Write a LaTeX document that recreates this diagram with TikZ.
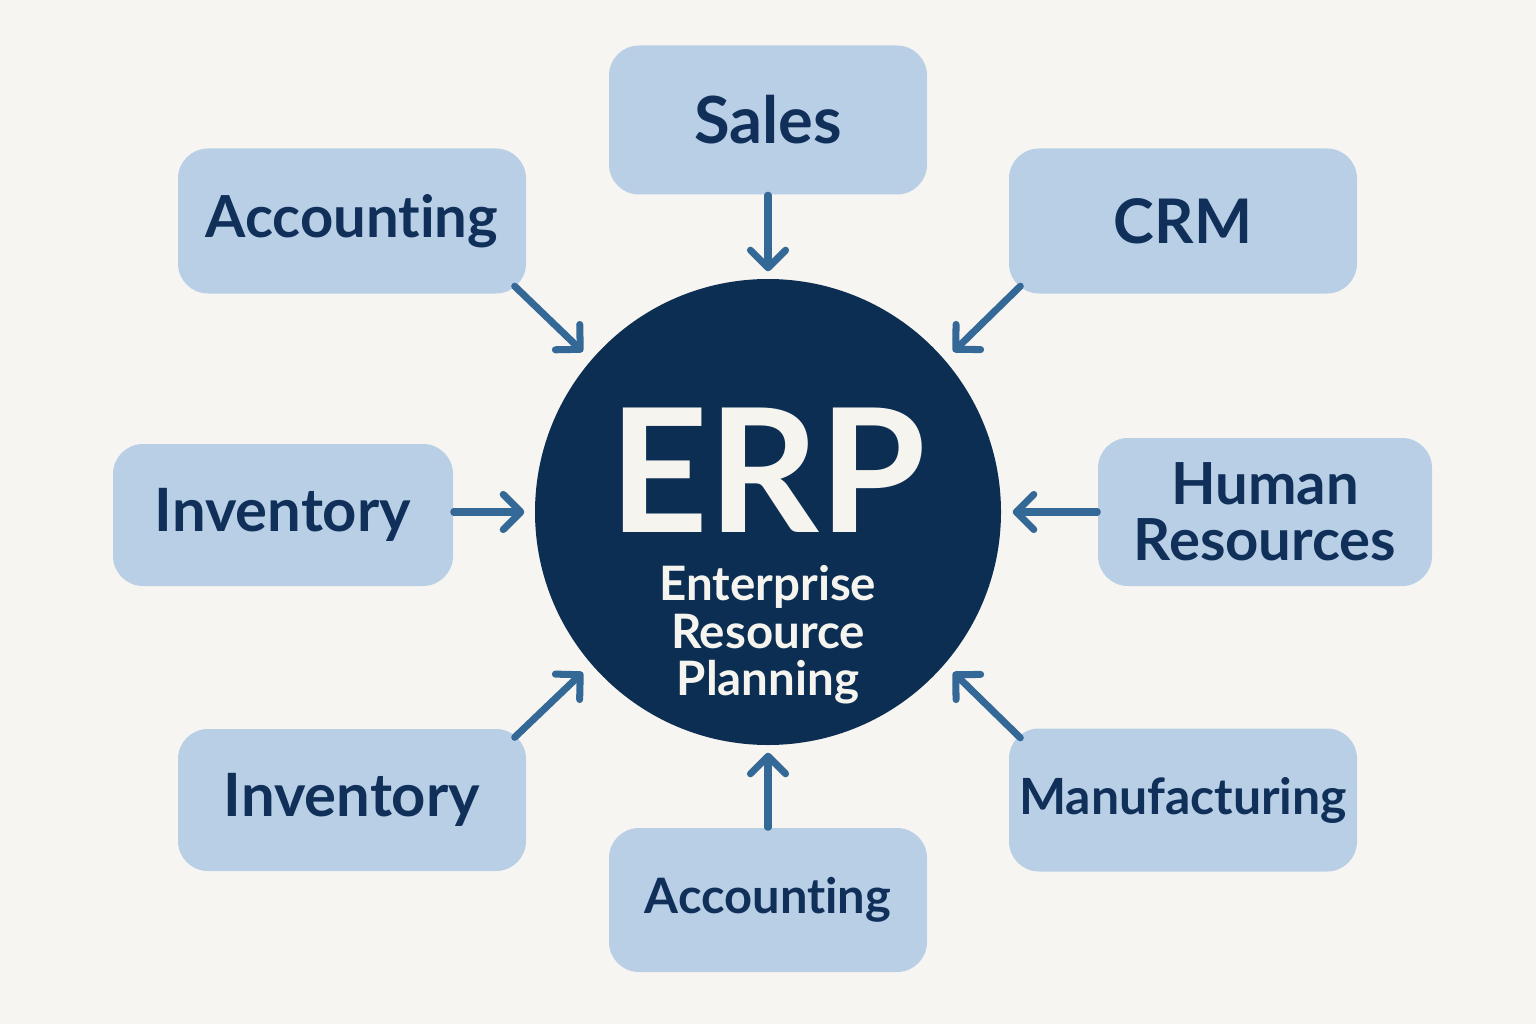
\documentclass[tikz,border=0pt]{standalone}
\usepackage{fontspec}
\setmainfont[Ligatures=NoCommon]{Lato}
\usetikzlibrary{arrows.meta,shapes,calc,positioning}
\definecolor{bgcol}{HTML}{F7F5F1}
\definecolor{boxfill}{HTML}{B8CFE6}
\definecolor{navytext}{HTML}{10305A}
\definecolor{erpcol}{HTML}{0B2E52}
\definecolor{arrowcol}{HTML}{336897}
\definecolor{erptext}{HTML}{F6F4EF}

\begin{document}
\begin{tikzpicture}
	\tikzstyle{every node}=[font=\bfseries\fontsize{17}{20}\selectfont]
	\tikzstyle{module}=[fill=boxfill, rounded corners=0.3cm, text=navytext, align=center, inner sep=0pt]
	\tikzstyle{link}=[draw=arrowcol, line width=2pt, line cap=round, -{Straight Barb[length=5pt,width=10pt,round]}]
	\fill [bgcol] (0,0) rectangle (15.36,10.24);
	\useasboundingbox (0,0) rectangle (15.36,10.24);
	% centre
	\node [circle, fill=erpcol, minimum size=4.66cm, inner sep=0pt] (erp) at (7.68,5.12) {};
	\node [text=erptext, inner sep=0pt, font=\bfseries\fontsize{49}{49}\selectfont] (erptxt) at (7.68,5.54) {ERP};
	\node [text=erptext, inner sep=0pt, align=center, font=\bfseries\fontsize{13.5}{13.5}\selectfont, below=0.32cm of erptxt] (erpsub) {Enterprise\\Resource\\Planning};
	% modules
	\node [module, minimum width=3.18cm, minimum height=1.49cm, font=\bfseries\fontsize{18.5}{20}\selectfont] (sales) at (7.68,9.04) {Sales};
	\node [module, minimum width=3.48cm, minimum height=1.45cm, font=\bfseries\fontsize{16.5}{20}\selectfont] (acctop) at (3.52,8.03) {Accounting};
	\node [module, minimum width=3.48cm, minimum height=1.45cm, font=\bfseries\fontsize{17.5}{20}\selectfont] (crm) at (11.83,8.03) {CRM};
	\node [module, minimum width=3.40cm, minimum height=1.42cm] (invleft) at (2.83,5.09) {Inventory};
	\node [module, minimum width=3.34cm, minimum height=1.48cm, font=\bfseries\fontsize{16.5}{16}\selectfont] (hr) at (12.65,5.12) {Human\\Resources};
	\node [module, minimum width=3.48cm, minimum height=1.42cm] (invbot) at (3.52,2.24) {Inventory};
	\node [module, minimum width=3.48cm, minimum height=1.43cm, font=\bfseries\fontsize{14.2}{18}\selectfont] (manuf) at (11.83,2.24) {Manufacturing};
	\node [module, minimum width=3.18cm, minimum height=1.44cm, font=\bfseries\fontsize{13.9}{17}\selectfont] (accbot) at (7.68,1.24) {Accounting};
	% arrows into the centre
	\draw [link, shorten >=0.07cm] (sales.south) -- (erp.north);
	\draw [link, shorten >=0.07cm] (accbot.north) -- (erp.south);
	\draw [link, shorten >=0.1cm] (invleft.east |- erp.west) -- (erp.west);
	\draw [link, shorten >=0.11cm] (hr.west) -- (erp.east);
	\draw [link] ([shift={(-0.12,0.08)}]acctop.south east) -- ([shift={(-0.2,-0.05)}]erp.135);
	\draw [link] ([shift={(0.12,0.08)}]crm.south west) -- ([shift={(0.2,-0.05)}]erp.45);
	\draw [link] ([shift={(-0.12,-0.09)}]invbot.north east) -- ([shift={(-0.2,0.05)}]erp.225);
	\draw [link] ([shift={(0.12,-0.1)}]manuf.north west) -- ([shift={(0.2,0.05)}]erp.-45);
\end{tikzpicture}
\end{document}
